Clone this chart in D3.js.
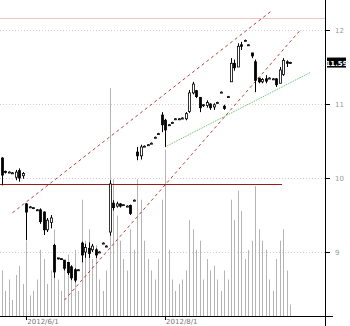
<!DOCTYPE html>
<html><head><meta charset="utf-8">
<script src="https://cdn.jsdelivr.net/npm/d3@7"></script>
<style>body{margin:0;background:#fff}svg{display:block}</style>
</head><body>
<script>
const open  = [10.27,10.09,10.08,10.07,10.01,10.10,10.03,9.65,9.61,9.59,9.57,9.57,9.54,9.30,9.40,9.09,8.92,8.91,8.89,8.86,8.80,8.76,8.76,9.12,9.00,9.05,9.03,9.03,9.00,9.12,9.08,9.27,9.66,9.62,9.65,9.63,9.62,9.63,9.70,10.35,10.30,10.43,10.45,10.47,10.55,10.60,10.85,10.78,10.72,10.75,10.80,10.80,10.81,10.80,10.90,11.15,11.18,11.09,10.98,10.98,11.00,10.96,11.02,11.16,10.97,11.10,11.30,11.55,11.50,11.80,11.86,11.80,11.69,11.57,11.35,11.30,11.34,11.35,11.34,11.34,11.28,11.40,11.57,11.55];
const high  = [10.28,10.10,10.09,10.08,10.11,10.13,10.08,9.66,9.62,9.60,9.58,9.59,9.55,9.46,9.50,9.11,8.92,8.91,8.89,8.86,8.82,8.78,8.77,9.14,9.11,9.13,9.11,9.05,9.01,9.13,9.09,9.97,9.70,9.68,9.66,9.64,9.63,9.64,9.71,10.42,10.45,10.44,10.46,10.48,10.56,10.61,10.89,10.80,10.73,10.76,10.81,10.81,10.82,10.89,11.19,11.30,11.19,11.09,11.00,11.05,11.01,11.01,11.03,11.17,10.99,11.11,11.62,11.60,11.82,11.84,11.87,11.81,11.69,11.60,11.35,11.35,11.39,11.36,11.35,11.35,11.50,11.62,11.59,11.57];
const low   = [9.90,10.06,10.07,10.06,9.97,9.95,9.99,9.16,9.60,9.58,9.56,9.38,9.23,9.27,9.32,8.65,8.90,8.90,8.75,8.69,8.62,8.59,8.75,8.86,8.92,8.92,9.00,8.92,8.99,9.11,9.07,9.22,9.56,9.60,9.60,9.63,9.61,9.50,9.69,10.24,10.25,10.42,10.44,10.46,10.54,10.59,10.62,10.42,10.71,10.74,10.79,10.79,10.80,10.78,10.88,11.13,11.08,10.89,10.96,10.95,10.92,10.92,11.01,11.15,10.92,11.09,11.30,11.45,11.50,11.73,11.85,11.79,11.62,11.16,11.28,11.28,11.28,11.34,11.33,11.23,11.28,11.38,11.50,11.54];
const close = [10.04,10.08,10.08,10.07,10.08,10.00,10.06,9.54,9.61,9.60,9.57,9.41,9.30,9.43,9.46,8.73,8.91,8.90,8.78,8.72,8.65,8.62,8.76,8.96,9.06,8.98,9.08,8.96,9.00,9.12,9.08,9.92,9.60,9.65,9.62,9.64,9.62,9.52,9.70,10.30,10.42,10.43,10.45,10.47,10.55,10.60,10.72,10.65,10.72,10.75,10.80,10.80,10.81,10.87,11.15,11.27,11.10,10.95,10.99,11.02,10.95,10.99,11.02,11.16,10.94,11.10,11.55,11.49,11.78,11.78,11.86,11.80,11.65,11.32,11.30,11.33,11.31,11.35,11.34,11.26,11.46,11.59,11.55,11.56];
const volume = [20,11,16,7,18,22,14,33,9,11,16,29,25,14,20,38,16,11,20,27,22,29,11,51,33,38,25,31,16,11,20,100,60,44,33,25,20,38,29,60,51,33,25,20,16,25,51,73,29,16,11,14,16,20,42,38,29,33,16,25,20,22,16,11,20,16,51,42,55,46,25,29,33,57,38,33,29,16,11,25,33,38,20,5];
const priceTicks = [12, 11, 10, 9];
const priceTickLabels = ["12", "11", "10", "9"];
const dateTickIdx = [7, 47];
const dateTickLabels = ["2012/6/1", "2012/8/1"];
const lastPriceLabel = "11.59";
const supportLevel = 9.92;
const resistLevel = 12.16;
const upperChannel = [[3, 9.53], [78, 12.27]];
const lowerChannel = [[18, 8.35], [86, 12.0]];
const greenTrend = [[47, 10.42], [89, 11.43]];

const W = 350, H = 326;
const svg = d3.select("body").append("svg").attr("width", W).attr("height", H);
const plotR = 325, plotB = 316;
const n = open.length;
const x = d3.scaleLinear().domain([0, n - 1]).range([2, 290]);
const y = d3.scaleLinear().domain([9, 12]).range([252, 30]);
const yv = d3.scaleLinear().domain([0, 100]).range([plotB, 88]);

// grid (dotted)
svg.append("g").selectAll("line").data(priceTicks).join("line")
  .attr("x1", 0).attr("x2", plotR).attr("y1", d => Math.round(y(d)) + 0.5).attr("y2", d => Math.round(y(d)) + 0.5)
  .attr("stroke", "#d0d0d0").attr("stroke-dasharray", "1,2");

// resistance (pink)
svg.append("line").attr("x1", 0).attr("x2", plotR)
  .attr("y1", Math.round(y(resistLevel)) + 0.5).attr("y2", Math.round(y(resistLevel)) + 0.5)
  .attr("stroke", "#f4c4c4");

// volume bars
svg.append("g").selectAll("line").data(volume).join("line")
  .attr("x1", (d, i) => Math.round(x(i)) + 0.5).attr("x2", (d, i) => Math.round(x(i)) + 0.5)
  .attr("y1", plotB).attr("y2", d => yv(d))
  .attr("stroke", "#b4b4b4").attr("stroke-width", 1);

// support line (dark red)
svg.append("line").attr("x1", 0).attr("x2", 282)
  .attr("y1", Math.round(y(supportLevel)) + 0.5).attr("y2", Math.round(y(supportLevel)) + 0.5)
  .attr("stroke", "#9a1a1a").attr("stroke-width", 1);

// trend lines
const tl = (pts, color, dash) => svg.append("line")
  .attr("x1", x(pts[0][0])).attr("y1", y(pts[0][1]))
  .attr("x2", x(pts[1][0])).attr("y2", y(pts[1][1]))
  .attr("stroke", color).attr("stroke-dasharray", dash);
tl(upperChannel, "#b84040", "3,3");
tl(lowerChannel, "#b84040", "3,3");
tl(greenTrend, "#55c055", "1,1");

// candles
const idx = d3.range(n);
const cg = svg.append("g");
cg.selectAll("line.w").data(idx).join("line").attr("class", "w")
  .attr("x1", i => Math.round(x(i)) + 0.5).attr("x2", i => Math.round(x(i)) + 0.5)
  .attr("y1", i => y(high[i])).attr("y2", i => y(low[i]))
  .attr("stroke", "#000");
cg.selectAll("rect").data(idx).join("rect")
  .attr("x", i => Math.round(x(i)) - 0.5)
  .attr("width", 2)
  .attr("y", i => y(Math.max(open[i], close[i])))
  .attr("height", i => Math.max(1, Math.abs(y(open[i]) - y(close[i]))))
  .attr("fill", i => close[i] >= open[i] ? "#fff" : "#000")
  .attr("stroke", "#000").attr("stroke-width", 0.8);

// axes lines
svg.append("line").attr("x1", plotR + 0.5).attr("x2", plotR + 0.5).attr("y1", 0).attr("y2", H).attr("stroke", "#000");
svg.append("line").attr("x1", 0).attr("x2", 333).attr("y1", plotB + 0.5).attr("y2", plotB + 0.5).attr("stroke", "#000");

// right axis ticks + labels
const ra = svg.append("g");
ra.selectAll("line").data(priceTicks).join("line")
  .attr("x1", plotR).attr("x2", plotR + 5)
  .attr("y1", d => Math.round(y(d)) + 0.5).attr("y2", d => Math.round(y(d)) + 0.5).attr("stroke", "#000");
ra.selectAll("text").data(priceTicks).join("text")
  .attr("x", 335).attr("y", d => y(d) + 2.5)
  .attr("font-family", "DejaVu Sans").attr("font-size", 7).attr("fill", "#999")
  .text((d, i) => priceTickLabels[i]);

// bottom ticks + labels
const ba = svg.append("g");
ba.selectAll("line").data(dateTickIdx).join("line")
  .attr("x1", d => Math.round(x(d)) + 0.5).attr("x2", d => Math.round(x(d)) + 0.5)
  .attr("y1", plotB).attr("y2", plotB + 4).attr("stroke", "#000");
ba.selectAll("text").data(dateTickIdx).join("text")
  .attr("x", d => x(d) + 1).attr("y", 324)
  .attr("font-family", "DejaVu Sans").attr("font-size", 7).attr("fill", "#777")
  .text((d, i) => dateTickLabels[i]);

// last price label
const ly = y(close[n - 1]);
svg.append("rect").attr("x", plotR + 2).attr("y", ly - 5).attr("width", 19).attr("height", 10).attr("fill", "#000");
svg.append("text").attr("x", plotR + 11.5).attr("y", ly + 3).attr("text-anchor", "middle")
  .attr("font-family", "DejaVu Sans").attr("font-size", 7).attr("font-weight", "bold").attr("fill", "#fff")
  .text(lastPriceLabel);
</script>
</body></html>
